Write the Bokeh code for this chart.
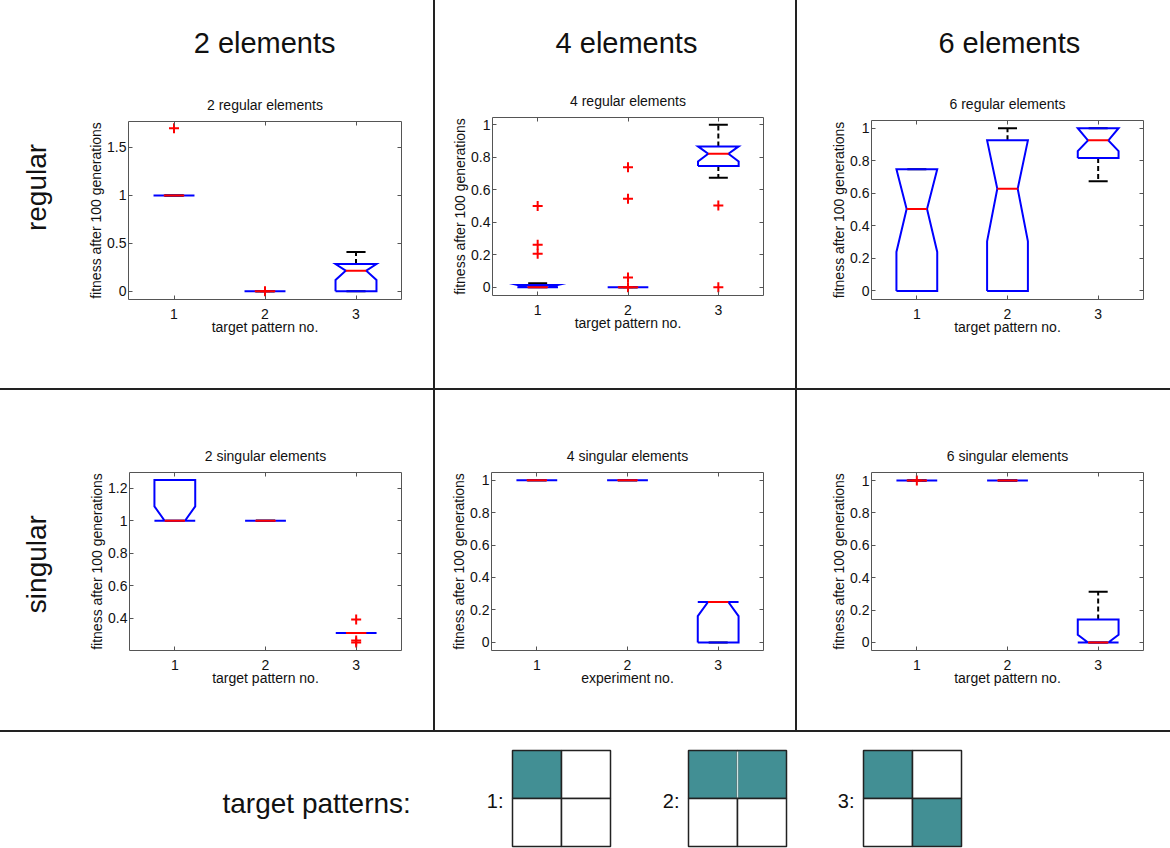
import math
from bokeh.plotting import figure
from bokeh.layouts import row, column
from bokeh.models import Range1d, FixedTicker, LinearAxis, Div
from bokeh.embed import file_html
from bokeh.resources import INLINE
from bokeh.core.properties import value

FONT = "Liberation Sans"
BLUE = "#0000ff"
RED = "#ff0000"
TEAL = "#428f94"
INK = "#111111"
FRAME = "#555555"
SEP = "#222222"

# ---------------- labels ----------------
HEADERS = ["2 elements", "4 elements", "6 elements"]
ROW_LABELS = ["regular", "singular"]
PANEL_TITLES = ["2 regular elements", "4 regular elements", "6 regular elements",
                "2 singular elements", "4 singular elements", "6 singular elements"]
Y_LABEL = "fitness after 100 generations"
X_LABELS = ["target pattern no.", "target pattern no.", "target pattern no.",
            "target pattern no.", "experiment no.", "target pattern no."]
X_POS = [1, 2, 3]
X_TICK_LABELS = ["1", "2", "3"]
Y_TICKS = [[0, 0.5, 1, 1.5],
           [0, 0.2, 0.4, 0.6, 0.8, 1],
           [0, 0.2, 0.4, 0.6, 0.8, 1],
           [0.4, 0.6, 0.8, 1, 1.2],
           [0, 0.2, 0.4, 0.6, 0.8, 1],
           [0, 0.2, 0.4, 0.6, 0.8, 1]]
Y_TICK_LABELS = [["0", "0.5", "1", "1.5"],
                 ["0", "0.2", "0.4", "0.6", "0.8", "1"],
                 ["0", "0.2", "0.4", "0.6", "0.8", "1"],
                 ["0.4", "0.6", "0.8", "1", "1.2"],
                 ["0", "0.2", "0.4", "0.6", "0.8", "1"],
                 ["0", "0.2", "0.4", "0.6", "0.8", "1"]]
Y_LIMITS = [(-0.085, 1.77), (-0.05, 1.045), (-0.053, 1.047),
            (0.203, 1.296), (-0.05, 1.047), (-0.05, 1.05)]

# ---------------- box statistics (one row per panel, one value per target pattern) ----------------
Q1 = [[1.0, 0.0, 0.0], [0.0, 0.0, 0.746], [0.0, 0.0, 0.816],
      [1.0, 1.0, 0.311], [1.0, 1.0, 0.0], [1.0, 1.0, 0.0]]
MEDIAN = [[1.0, 0.0, 0.215], [0.0, 0.0, 0.822], [0.503, 0.628, 0.925],
          [1.0, 1.0, 0.311], [1.0, 1.0, 0.249], [1.0, 1.0, 0.0]]
Q3 = [[1.0, 0.0, 0.285], [0.015, 0.0, 0.867], [0.748, 0.925, 1.0],
      [1.25, 1.0, 0.311], [1.0, 1.0, 0.249], [1.0, 1.0, 0.141]]
NOTCH_LO = [[1.0, 0.0, 0.119], [0.0, 0.0, 0.775], [0.239, 0.305, 0.859],
            [1.0, 1.0, 0.311], [1.0, 1.0, 0.162], [1.0, 1.0, 0.0]]
NOTCH_HI = [[1.0, 0.0, 0.285], [0.015, 0.0, 0.867], [0.748, 0.925, 1.0],
            [1.088, 1.0, 0.311], [1.0, 1.0, 0.249], [1.0, 1.0, 0.047]]
WHISKER_LO = [[1.0, 0.0, 0.0], [0.0, 0.0, 0.674], [0.0, 0.0, 0.673],
              [1.0, 1.0, 0.311], [1.0, 1.0, 0.0], [1.0, 1.0, 0.0]]
WHISKER_HI = [[1.0, 0.0, 0.41], [0.025, 0.0, 1.0], [0.748, 1.0, 1.0],
              [1.25, 1.0, 0.311], [1.0, 1.0, 0.249], [1.0, 1.0, 0.313]]
OUTLIERS = [
    [[1.70], [0.0], []],
    [[0.50, 0.262, 0.207], [0.739, 0.545, 0.06, 0.0], [0.504, 0.0]],
    [[], [], []],
    [[], [], [0.393, 0.265, 0.252]],
    [[], [], []],
    [[1.0], [], []],
]

# ---------------- target patterns ----------------
PATTERN_NAMES = ["1:", "2:", "3:"]
PATTERN_CELLS = [[[1, 0], [0, 0]],
                 [[1, 1], [0, 0]],
                 [[1, 0], [0, 1]]]

# ---------------- layout (pixels) ----------------
COL_W = [370, 360, 373]
LABEL_W = 63
HEAD_H = 78
ROW_H = [388, 340]
BOTTOM_H = 116
# width, height, border left, right, top, bottom
PANEL_GEOM = [(370, 310, 65, 32, 43, 89),
              (360, 310, 57, 32, 39, 93),
              (373, 310, 74, 27, 42, 89),
              (370, 340, 66, 32, 82, 80),
              (360, 340, 56, 32, 82, 80),
              (373, 340, 74, 27, 82, 79)]
HEAD_POS = [(184.5, 42), (178, 42), (189, 42)]
ROWLAB_POS = [(36, 187), (36, 175)]
BOX_HW = 0.225
NOTCH_HW = 0.1125
CAP_HW = 0.105


def style_axis(ax, size="14px"):
    ax.major_tick_in = 4
    ax.major_tick_out = 0
    ax.minor_tick_line_color = None
    ax.axis_line_color = None
    ax.major_tick_line_color = FRAME
    ax.major_label_text_font = FONT
    ax.major_label_text_font_size = size
    ax.major_label_text_color = INK
    ax.axis_label_text_font = FONT
    ax.axis_label_text_font_size = "14px"
    ax.axis_label_text_font_style = "normal"
    ax.axis_label_text_color = INK


def build_panel(i):
    w, h, bl, br, bt, bb = PANEL_GEOM[i]
    p = figure(width=w, height=h, output_backend="svg", toolbar_location=None,
               x_range=Range1d(0.5, 3.5), y_range=Range1d(*Y_LIMITS[i]),
               x_axis_type=None, y_axis_type=None, title=PANEL_TITLES[i],
               min_border_left=bl, min_border_right=br, min_border_top=bt, min_border_bottom=bb,
               background_fill_color="white", border_fill_color="white",
               outline_line_color=FRAME, outline_line_width=1)
    p.title.text_font = FONT
    p.title.text_font_size = "14px"
    p.title.text_font_style = "normal"
    p.title.text_color = INK
    p.title.align = "center"
    p.title.standoff = 17

    yt = Y_TICKS[i]
    ymap = {t: l for t, l in zip(yt, Y_TICK_LABELS[i])}
    xmap = {t: l for t, l in zip(X_POS, X_TICK_LABELS)}

    left = LinearAxis(ticker=FixedTicker(ticks=yt), major_label_overrides=ymap, axis_label=Y_LABEL)
    style_axis(left)
    left.major_label_standoff = 2
    left.axis_label_standoff = 0
    below = LinearAxis(ticker=FixedTicker(ticks=X_POS), major_label_overrides=xmap, axis_label=X_LABELS[i])
    style_axis(below)
    below.major_label_standoff = 9
    below.axis_label_standoff = -3
    right = LinearAxis(ticker=FixedTicker(ticks=yt))
    style_axis(right, "1px")
    right.major_label_text_color = None
    right.major_label_standoff = 0
    above = LinearAxis(ticker=FixedTicker(ticks=X_POS))
    style_axis(above, "1px")
    above.major_label_text_color = None
    above.major_label_standoff = 0
    p.add_layout(left, "left")
    p.add_layout(below, "below")
    p.add_layout(right, "right")
    p.add_layout(above, "above")

    q1, q3, md = Q1[i], Q3[i], MEDIAN[i]
    nl, nh = NOTCH_LO[i], NOTCH_HI[i]
    wl, wh = WHISKER_LO[i], WHISKER_HI[i]

    # whiskers (dashed) and caps
    p.segment(x0=X_POS, y0=q3, x1=X_POS, y1=wh, line_color="black", line_width=2, line_dash="5 3")
    p.segment(x0=X_POS, y0=q1, x1=X_POS, y1=wl, line_color="black", line_width=2, line_dash="5 3")
    p.segment(x0=[x - CAP_HW for x in X_POS], y0=wh, x1=[x + CAP_HW for x in X_POS], y1=wh,
              line_color="black", line_width=2)
    p.segment(x0=[x - CAP_HW for x in X_POS], y0=wl, x1=[x + CAP_HW for x in X_POS], y1=wl,
              line_color="black", line_width=2)

    # notched boxes
    xs_box, ys_box = [], []
    for k, x in enumerate(X_POS):
        xs_box.append([x - BOX_HW, x - BOX_HW, x - NOTCH_HW, x - BOX_HW, x - BOX_HW,
                       x + BOX_HW, x + BOX_HW, x + NOTCH_HW, x + BOX_HW, x + BOX_HW, x - BOX_HW])
        ys_box.append([q1[k], nl[k], md[k], nh[k], q3[k], q3[k], nh[k], md[k], nl[k], q1[k], q1[k]])
    p.multi_line(xs_box, ys_box, line_color=BLUE, line_width=2, line_join="miter")

    # medians
    p.segment(x0=[x - NOTCH_HW for x in X_POS], y0=md, x1=[x + NOTCH_HW for x in X_POS], y1=md,
              line_color=RED, line_width=2)

    # outliers
    ox, oy = [], []
    for k, x in enumerate(X_POS):
        for v in OUTLIERS[i][k]:
            ox.append(x)
            oy.append(v)
    if ox:
        p.scatter(ox, oy, marker="cross", size=10, line_color=RED, line_width=2)
    return p


def text_fig(w, h, texts, xs, ys, size, angle=0.0, align="center"):
    p = figure(width=w, height=h, output_backend="svg", toolbar_location=None,
               x_range=Range1d(0, w), y_range=Range1d(0, h),
               x_axis_type=None, y_axis_type=None, title=None,
               min_border=0, outline_line_color=None,
               background_fill_color="white", border_fill_color="white")
    p.text(x=xs, y=ys, text=texts, text_font=value(FONT), text_font_size=size,
           text_align=align, text_baseline="middle", angle=angle, text_color=INK)
    return p


def vline(h):
    return Div(width=2, height=h, margin=0, styles={"background-color": SEP})


def hline(w):
    return Div(width=w, height=2, margin=0, styles={"background-color": SEP})


panels = [build_panel(i) for i in range(6)]

heads = [text_fig(COL_W[c], HEAD_H, [HEADERS[c]], [HEAD_POS[c][0]], [HEAD_H - HEAD_POS[c][1]], "29px")
         for c in range(3)]
row_labels = [text_fig(LABEL_W, ROW_H[r], [ROW_LABELS[r]], [ROWLAB_POS[r][0]],
                       [ROW_H[r] - ROWLAB_POS[r][1]], "28px", angle=math.pi / 2)
              for r in range(2)]

top_row = row(
    row(row_labels[0], column(heads[0], panels[0])),
    vline(ROW_H[0]),
    column(heads[1], panels[1]),
    vline(ROW_H[0]),
    column(heads[2], panels[2]),
)
mid_row = row(
    row(row_labels[1], panels[3]),
    vline(ROW_H[1]),
    panels[4],
    vline(ROW_H[1]),
    panels[5],
)

# bottom strip with the target patterns
TOTAL_W = LABEL_W + sum(COL_W) + 4
GRID_LEFT = [512, 688, 863]
GRID_TOP = 18
CELL_W = 49
CELL_H = 48

bp = figure(width=TOTAL_W, height=BOTTOM_H, output_backend="svg", toolbar_location=None,
            x_range=Range1d(0, TOTAL_W), y_range=Range1d(BOTTOM_H, 0),
            x_axis_type=None, y_axis_type=None, title=None, min_border=0,
            outline_line_color=None, background_fill_color="white", border_fill_color="white")
bp.text(x=[222], y=[71], text=["target patterns:"], text_font=value(FONT), text_font_size="28px",
        text_align="left", text_baseline="middle", text_color=INK)
bp.text(x=[g - 9 for g in GRID_LEFT], y=[68] * 3, text=PATTERN_NAMES, text_font=value(FONT),
        text_font_size="20px", text_align="right", text_baseline="middle", text_color=INK)
L, R, T, B, C = [], [], [], [], []
sx0, sy0, sx1, sy1 = [], [], [], []
for g, cells in enumerate(PATTERN_CELLS):
    for r in range(2):
        for c in range(2):
            L.append(GRID_LEFT[g] + c * CELL_W)
            R.append(GRID_LEFT[g] + (c + 1) * CELL_W)
            T.append(GRID_TOP + r * CELL_H)
            B.append(GRID_TOP + (r + 1) * CELL_H)
            C.append(TEAL if cells[r][c] else "white")
        if cells[r][0] and cells[r][1]:
            sx0.append(GRID_LEFT[g] + CELL_W)
            sx1.append(GRID_LEFT[g] + CELL_W)
            sy0.append(GRID_TOP + r * CELL_H + 1)
            sy1.append(GRID_TOP + (r + 1) * CELL_H - 1)
bp.quad(left=L, right=R, top=T, bottom=B, fill_color=C, line_color="#222222", line_width=1.5)
if sx0:
    bp.segment(x0=sx0, y0=sy0, x1=sx1, y1=sy1, line_color="#cfe4e4", line_width=1.5)

layout = column(top_row, hline(TOTAL_W), mid_row, hline(TOTAL_W), bp)

open("out.html", "w").write(file_html(layout, INLINE))
